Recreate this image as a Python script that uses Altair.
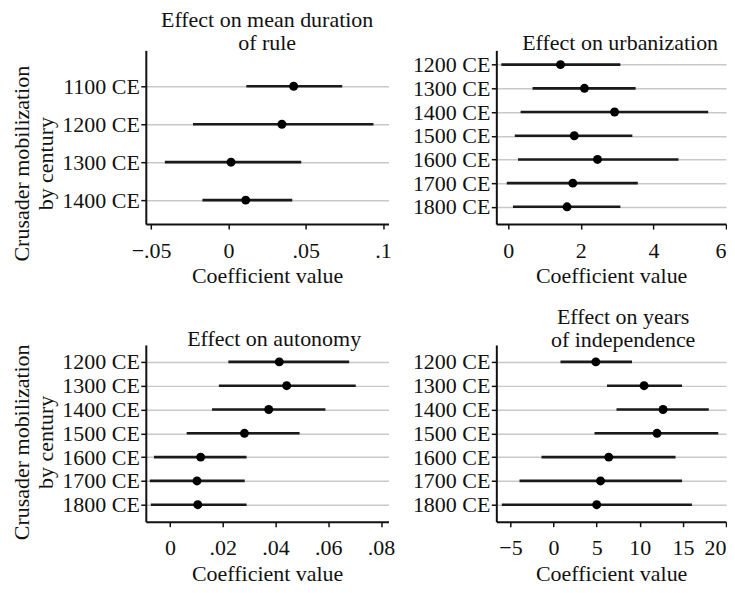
import altair as alt
import pandas as pd

FONT = "Liberation Serif"
FS = 22

# ---- Panel 1: mean duration of rule ----
rule_centuries = [1100, 1200, 1300, 1400]
rule_est = [0.0422, 0.0346, 0.0017, 0.0112]
rule_lo = [0.0116, -0.0229, -0.0411, -0.0168]
rule_hi = [0.0736, 0.0938, 0.0471, 0.0413]
rule_ticks = [-0.05, 0, 0.05, 0.1]
rule_tick_labels = ["\u2212.05", "0", ".05", ".1"]

# ---- Panels 2-4 share centuries ----
centuries = [1200, 1300, 1400, 1500, 1600, 1700, 1800]

urban_est = [1.44, 2.10, 2.93, 1.82, 2.46, 1.78, 1.62]
urban_lo = [-0.19, 0.67, 0.34, 0.18, 0.27, -0.04, 0.13]
urban_hi = [3.09, 3.51, 5.51, 3.42, 4.69, 3.57, 3.09]
urban_ticks = [0, 2, 4, 6]
urban_tick_labels = ["0", "2", "4", "6"]

auto_est = [0.0414, 0.0442, 0.0374, 0.0282, 0.0116, 0.0102, 0.0105]
auto_lo = [0.0221, 0.0185, 0.0159, 0.0063, -0.0061, -0.0077, -0.0073]
auto_hi = [0.0679, 0.0704, 0.0589, 0.0491, 0.0290, 0.0283, 0.0290]
auto_ticks = [0, 0.02, 0.04, 0.06, 0.08]
auto_tick_labels = ["0", ".02", ".04", ".06", ".08"]

indep_est = [4.9, 10.5, 12.7, 12.0, 6.4, 5.45, 5.0]
indep_lo = [0.8, 6.2, 7.3, 4.75, -1.4, -3.95, -6.0]
indep_hi = [9.1, 14.9, 18.0, 19.1, 14.15, 14.9, 16.05]
indep_ticks = [-5, 0, 5, 10, 15, 20]
indep_tick_labels = ["\u22125", "0", "5", "10", "15", "20"]

titles = [
    ["Effect on mean duration", "of rule"],
    ["Effect on urbanization"],
    ["Effect on autonomy"],
    ["Effect on years", "of independence"],
]
y_title = ["Crusader mobilization", "by century"]
x_title = "Coefficient value"


def make_panel(cents, est, lo, hi, title, ticks, tick_labels, xdom, ydom,
               width, height, left, ytitle_y, xtitle_y, flush, title_dx, title_off):
    df = pd.DataFrame({"century": cents, "est": est, "lo": lo, "hi": hi})
    label_expr = "".join(
        f"datum.value == {t!r} ? '{l}' : " for t, l in zip(ticks, tick_labels)
    ) + "''"
    xscale = alt.Scale(domain=xdom, nice=False, zero=False)
    yscale = alt.Scale(domain=ydom, nice=False, zero=False, reverse=True)
    if left:
        yaxis = alt.Axis(values=cents, labelExpr="datum.value + ' CE'", grid=True,
                         title=y_title, titleX=-134.5, titleY=ytitle_y,
                         titleBaseline="top", titleAlign="center", titleAngle=270,
                         titleLineHeight=24, labelPadding=1.5, labelOverlap=False)
    else:
        yaxis = alt.Axis(values=cents, labelExpr="datum.value + ' CE'", grid=True,
                         title=None, labelPadding=1.5, labelOverlap=False)
    xaxis = alt.Axis(values=ticks, labelExpr=label_expr, grid=False,
                     title=x_title, titleY=xtitle_y, titleBaseline="alphabetic",
                     labelPadding=11, labelFlush=flush, labelOverlap=False)
    base = alt.Chart(df)
    rules = base.mark_rule(color="#1a1a1a", strokeWidth=2.6).encode(
        x=alt.X("lo:Q", scale=xscale, axis=xaxis),
        x2="hi:Q",
        y=alt.Y("century:Q", scale=yscale, axis=yaxis),
    )
    pts = base.mark_circle(size=80, color="black", opacity=1).encode(
        x=alt.X("est:Q", scale=xscale, axis=xaxis),
        y=alt.Y("century:Q", scale=yscale, axis=yaxis),
    )
    return alt.layer(rules, pts).properties(
        width=width, height=height,
        title=alt.TitleParams(text=title, anchor="middle", frame="group",
                              baseline="bottom", offset=title_off, lineHeight=23,
                              dx=title_dx),
    )


p1 = make_panel(rule_centuries, rule_est, rule_lo, rule_hi, titles[0],
                rule_ticks, rule_tick_labels, [-0.0534, 0.1035], [1005.3, 1463.2],
                243, 174, True, 113, 58, False, 0, -27)
p2 = make_panel(centuries, urban_est, urban_lo, urban_hi, titles[1],
                urban_ticks, urban_tick_labels, [-0.328, 6.0], [1139.7, 1872.9],
                230, 174, False, 0, 58, 2, 9, -27)
p3 = make_panel(centuries, auto_est, auto_lo, auto_hi, titles[2],
                auto_ticks, auto_tick_labels, [-0.0092, 0.0828], [1128.7, 1871.3],
                243, 177, True, 97, 59, False, 7, -29)
p4 = make_panel(centuries, indep_est, indep_lo, indep_hi, titles[3],
                indep_ticks, indep_tick_labels, [-6.64, 20.0], [1128.7, 1871.3],
                230, 177, False, 0, 59, 2, 12, -29)

chart = alt.concat(
    p1, p2, p3, p4, columns=2, spacing={"row": 121, "column": 108},
    bounds="flush", align="each",
).properties(
    padding={"left": 2, "top": 1, "right": 0, "bottom": 0},
).configure_view(stroke=None).configure_axis(
    labelFont=FONT, labelFontSize=FS, labelColor="#111111",
    titleFont=FONT, titleFontSize=FS, titleFontWeight="normal", titleColor="#111111",
    domainColor="#111111", domainWidth=2, tickColor="#111111", tickWidth=1.5,
    tickSize=5, gridColor="#c8c8c8", gridWidth=1.5,
).configure_title(
    font=FONT, fontSize=FS, fontWeight="normal", color="#111111",
)

chart.save("out.html", embed_options={"renderer": "svg", "actions": False})
